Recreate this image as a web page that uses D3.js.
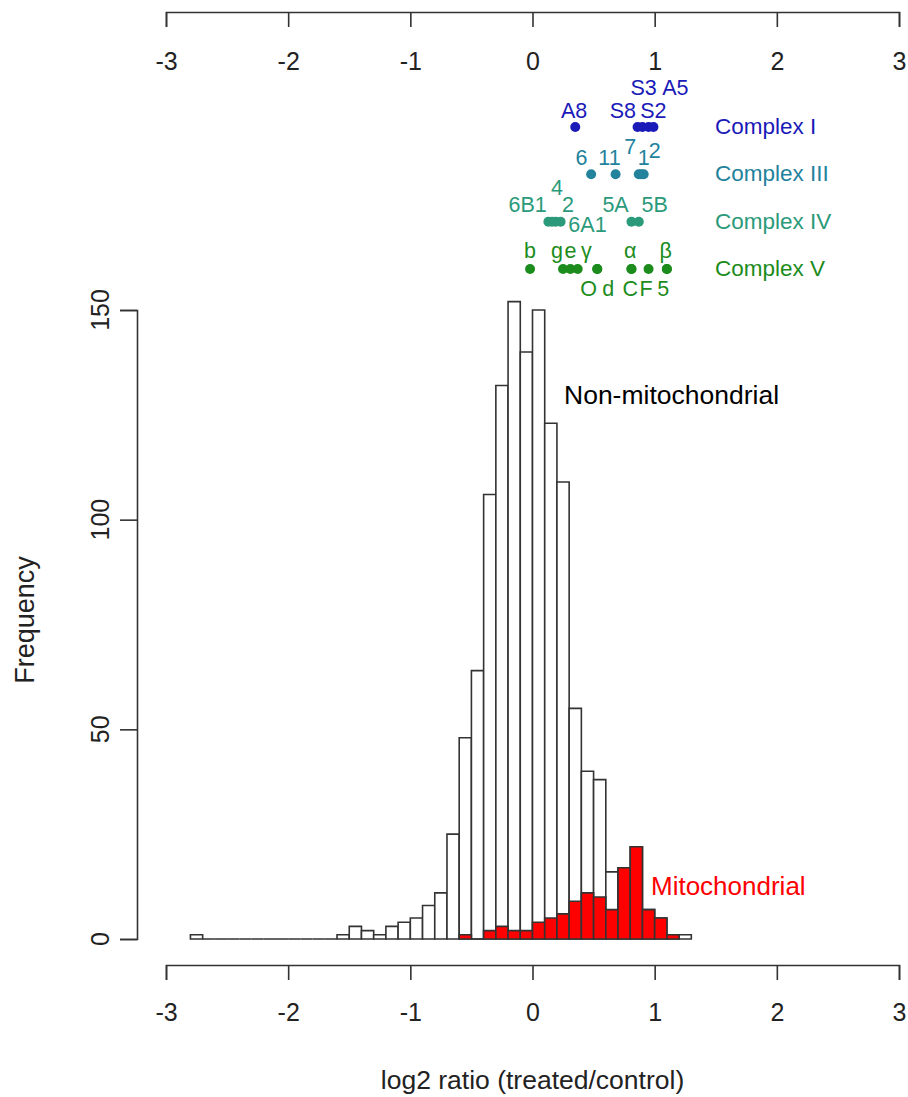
<!DOCTYPE html>
<html>
<head>
<meta charset="utf-8">
<script src="https://cdn.jsdelivr.net/npm/d3@7"></script>
<style>
body { margin: 0; background: #fff; }
text { font-family: "Liberation Sans", Arial, sans-serif; }
</style>
</head>
<body>
<div id="chart"></div>
<script>
// histogram bins (left edge, log2 ratio), width 0.1
var binStarts = [-2.8, -2.7, -2.6, -2.5, -2.4, -2.3, -2.2, -2.1, -2.0, -1.9, -1.8, -1.7,
    -1.6, -1.5, -1.4, -1.3, -1.2, -1.1, -1.0, -0.9, -0.8, -0.7, -0.6, -0.5, -0.4, -0.3,
    -0.2, -0.1, 0.0, 0.1, 0.2, 0.3, 0.4, 0.5, 0.6, 0.7, 0.8, 0.9, 1.0, 1.1, 1.2];
var allCounts = [1, 0, 0, 0, 0, 0, 0, 0, 0, 0, 0, 0,
    1, 3, 2, 1, 3, 4, 5, 8, 11, 25, 48, 64, 106, 132,
    152, 140, 150, 123, 109, 55, 40, 38, 16, 17, 22, 7, 5, 1, 1];

var mitoStarts = [-0.6, -0.5, -0.4, -0.3, -0.2, -0.1, 0.0, 0.1, 0.2, 0.3, 0.4, 0.5, 0.6, 0.7, 0.8, 0.9, 1.0, 1.1];
var mitoCounts = [1, 0, 2, 3, 2, 2, 4, 5, 6, 9, 11, 10, 7, 17, 22, 7, 5, 1];
var binWidth = 0.1;

var xTicks = [-3, -2, -1, 0, 1, 2, 3];
var yTicks = [0, 50, 100, 150];

// respiratory complex subunits
var complexNames = ["Complex I", "Complex III", "Complex IV", "Complex V"];
var c1Labels = ["A8", "S8", "S3", "S2", "A5"];
var c1Values = [0.35, 0.86, 0.90, 0.95, 0.99];
var c3Labels = ["6", "11", "7", "1", "2"];
var c3Values = [0.48, 0.68, 0.87, 0.89, 0.91];
var c4Labels = ["6B1", "4", "2", "6A1", "5A", "5B"];
var c4Values = [0.13, 0.16, 0.19, 0.23, 0.81, 0.87];
var c5Labels = ["b", "g", "e", "γ", "α", "β", "O", "d", "C", "F", "5"];
var c5Values = [-0.02, 0.25, 0.31, 0.53, 0.81, 1.10, 0.37, 0.53, 0.81, 0.95, 1.10];

// where each subunit label sits: [x in log2 units, pixel offset from the dot row]
var c1Spots = [[0.34, -17], [0.74, -17], [0.91, -40], [0.99, -17], [1.17, -40]];
var c3Spots = [[0.40, -17], [0.63, -17], [0.80, -28], [0.91, -17], [1.00, -24]];
var c4Spots = [[-0.04, -17], [0.20, -34], [0.29, -17], [0.45, 3], [0.68, -17], [1.00, -17]];
var c5Spots = [[-0.02, -19], [0.20, -19], [0.31, -19], [0.44, -19], [0.80, -19], [1.09, -19],
    [0.46, 19], [0.62, 19], [0.80, 19], [0.93, 19], [1.07, 19]];

var complexColors = ["#1a1ab8", "#23829c", "#2a9a7a", "#1c8c1c"];

var width = 908;
var height = 1097;

var svg = d3.select("#chart")
    .append("svg")
    .attr("width", width)
    .attr("height", height);

var xScale = d3.scaleLinear().domain([-3, 3]).range([166, 899]);
var yScale = d3.scaleLinear().domain([0, 150]).range([939, 310]);
var rowScale = d3.scalePoint().domain(complexNames).range([127, 269]);

var ink = "#333";

// bars: total (white) then mitochondrial (red) on top
function barPath(start, count) {
    var x0 = xScale(start), x1 = xScale(start + binWidth);
    var y0 = yScale(0), y1 = yScale(count);
    return "M" + x0 + "," + y0 + "V" + y1 + "H" + x1 + "V" + y0 + "Z";
}

svg.append("g")
    .selectAll("path")
    .data(binStarts)
    .enter()
    .append("path")
    .attr("d", function(d, i) { return barPath(d, allCounts[i]); })
    .attr("fill", "white")
    .attr("stroke", ink)
    .attr("stroke-width", 1.6);

svg.append("g")
    .selectAll("path")
    .data(mitoStarts)
    .enter()
    .append("path")
    .attr("d", function(d, i) { return barPath(d, mitoCounts[i]); })
    .attr("fill", "#ff0000")
    .attr("stroke", ink)
    .attr("stroke-width", 1.6);

// axes
function styleAxis(g) {
    g.selectAll("path").attr("stroke", ink).attr("stroke-width", 1.6);
    g.selectAll("line").attr("stroke", ink).attr("stroke-width", 1.6);
    g.selectAll("text")
        .attr("fill", "#222")
        .style("font-size", "25px")
        .style("font-family", "'Liberation Sans', Arial, sans-serif");
}

var plainNum = function(d) { return String(d); };

var topAxis = svg.append("g")
    .attr("transform", "translate(0,12)")
    .call(d3.axisBottom(xScale).tickValues(xTicks).tickFormat(plainNum)
        .tickSize(15).tickPadding(25));
styleAxis(topAxis);

var bottomAxis = svg.append("g")
    .attr("transform", "translate(0,965)")
    .call(d3.axisBottom(xScale).tickValues(xTicks).tickFormat(plainNum)
        .tickSize(15).tickPadding(23));
styleAxis(bottomAxis);

var leftAxis = svg.append("g")
    .attr("transform", "translate(137,0)")
    .call(d3.axisLeft(yScale).tickValues(yTicks).tickSize(17));
styleAxis(leftAxis);
leftAxis.selectAll("text").remove();

svg.append("g")
    .selectAll("text")
    .data(yTicks)
    .enter()
    .append("text")
    .attr("transform", function(d) { return "translate(109," + yScale(d) + ") rotate(-90)"; })
    .attr("text-anchor", "middle")
    .attr("fill", "#222")
    .style("font-size", "25px")
    .text(function(d) { return d; });

// axis titles
svg.append("text")
    .attr("x", xScale(0))
    .attr("y", 1089)
    .attr("text-anchor", "middle")
    .attr("fill", "#222")
    .style("font-size", "26.5px")
    .text("log2 ratio (treated/control)");

svg.append("text")
    .attr("transform", "translate(34,620) rotate(-90)")
    .attr("text-anchor", "middle")
    .attr("fill", "#222")
    .style("font-size", "27px")
    .text("Frequency");

// histogram labels
svg.append("text")
    .attr("x", 564)
    .attr("y", 404)
    .attr("fill", "#000")
    .style("font-size", "26.5px")
    .text("Non-mitochondrial");

svg.append("text")
    .attr("x", 651)
    .attr("y", 895)
    .attr("fill", "#ff0000")
    .style("font-size", "26px")
    .text("Mitochondrial");

// subunit dot rows
var rows = [
    { labels: c1Labels, values: c1Values, spots: c1Spots },
    { labels: c3Labels, values: c3Values, spots: c3Spots },
    { labels: c4Labels, values: c4Values, spots: c4Spots },
    { labels: c5Labels, values: c5Values, spots: c5Spots }
];

rows.forEach(function(r, k) {
    var name = complexNames[k];
    var col = complexColors[k];
    var ry = rowScale(name);
    var g = svg.append("g");

    g.selectAll("circle")
        .data(r.values)
        .enter()
        .append("circle")
        .attr("cx", function(d) { return xScale(d); })
        .attr("cy", ry)
        .attr("r", 5)
        .attr("fill", col);

    g.selectAll("text.sub")
        .data(r.labels)
        .enter()
        .append("text")
        .attr("class", "sub")
        .attr("x", function(d, i) { return xScale(r.spots[i][0]); })
        .attr("y", function(d, i) { return ry + r.spots[i][1]; })
        .attr("dy", "0.36em")
        .attr("text-anchor", "middle")
        .attr("fill", col)
        .style("font-size", "21.5px")
        .text(function(d) { return d; });

    g.append("text")
        .attr("x", 715)
        .attr("y", ry - 1)
        .attr("dy", "0.36em")
        .attr("fill", col)
        .style("font-size", "22.5px")
        .text(name);
});
</script>
</body>
</html>
